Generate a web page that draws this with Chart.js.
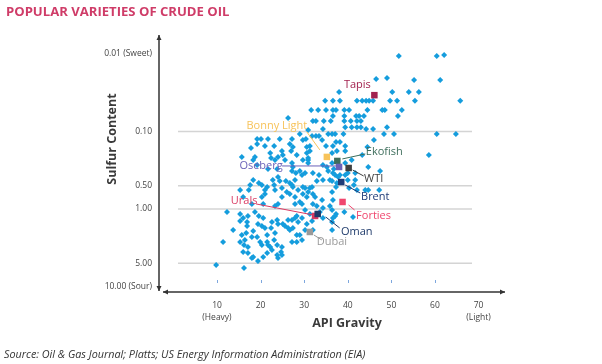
<!DOCTYPE html>
<html>
<head>
<meta charset="utf-8">
<script src="https://cdn.jsdelivr.net/npm/chart.js@4.4.1/dist/chart.umd.min.js"></script>
<style>
  html, body { margin: 0; padding: 0; background: #fff; }
</style>
</head>
<body>
<canvas id="oilChart" width="602" height="364"></canvas>
<script>
// Crude grades: API gravity and sulfur content (%), one entry per point
const api = [
  51.7, 60.4, 62.1,
  46.5, 49.0, 55.2, 61.2,
  38.0, 50.2, 54.0, 56.3,
  34.8, 36.6, 38.2, 42.1, 43.3, 44.2, 44.9, 45.8, 49.7, 51.3, 55.4, 65.8,
  31.6, 33.2, 35.0, 36.6, 37.3, 39.2, 40.3, 44.5, 47.9, 48.5, 52.4,
  36.6, 39.2, 41.9, 42.6, 43.7, 51.5, 26.3,
  32.0, 32.7, 34.5, 36.1, 39.2, 40.7, 42.1, 43.0,
  39.4, 40.9, 42.1, 43.0, 49.0,
  34.3, 44.2, 45.8, 30.9,
  29.0, 35.5, 36.4, 37.1, 39.0, 48.3, 50.6, 60.4, 64.8,
  31.8, 32.7, 33.4,
  19.2, 20.1, 21.7, 24.4, 27.2, 30.4,
  29.7, 34.1, 46.0, 37.3, 38.2,
  19.2, 26.7,
  21.0, 23.1, 31.3, 35.0, 36.6, 39.4,
  27.4, 30.6, 44.5, 17.8,
  24.9, 27.0, 31.3, 37.5, 39.4,
  22.2, 30.6, 36.4,
  25.1, 28.3, 43.3, 58.6,
  15.7, 18.7, 24.0, 22.4, 30.9,
  18.3, 23.3, 25.6, 29.7, 30.9, 40.9,
  27.2, 30.9, 36.4, 39.4,
  19.2, 34.3,
  27.4, 35.2, 44.7,
  21.7, 23.8, 36.8,
  27.2, 29.0, 35.5, 47.4,
  28.1, 30.2, 32.0, 36.6, 40.0, 41.7,
  29.5, 33.4, 37.1, 38.2, 39.4,
  24.0, 37.8,
  18.3, 22.8, 27.9, 34.3, 35.9, 40.0, 41.7,
  24.4, 25.8, 32.9, 36.4,
  19.6, 26.7, 37.5,
  17.6, 20.3, 23.1, 27.2, 41.4,
  21.5, 27.4, 29.7, 31.8, 37.3,
  24.9, 30.2, 31.3, 40.3,
  15.3, 17.3, 21.0, 23.3, 28.6, 42.1, 44.0, 44.7, 47.2,
  26.0, 30.9, 36.4,
  21.0, 26.7, 29.7, 32.0,
  16.0, 20.3, 24.9, 27.9, 30.6, 32.5,
  34.1, 36.6, 29.0,
  18.0, 20.6, 24.0, 27.9, 29.5, 32.0,
  23.3, 32.9, 35.9, 34.3,
  30.2, 36.4,
  12.3, 18.7, 33.6, 39.2,
  15.3, 31.3, 37.3,
  17.1, 19.6, 28.3, 37.1, 41.2,
  16.0, 20.6, 27.9, 29.5, 34.3, 36.6,
  23.8, 26.3, 27.2, 15.3, 31.8,
  16.9, 22.6, 28.6, 36.4,
  19.4, 24.0, 25.1, 30.6,
  16.9, 20.3, 25.6,
  21.0, 22.4, 26.3, 27.4,
  13.7, 26.7, 30.2, 32.0, 36.4, 18.3,
  16.7, 23.3,
  15.7, 21.5, 28.3, 29.0,
  18.0, 19.2,
  16.4, 23.1, 29.5,
  11.4, 15.3, 19.9, 21.5, 27.2, 28.3,
  16.2, 20.3, 21.7, 23.8,
  17.1, 22.2, 24.9, 22.6,
  16.0, 24.7, 17.1, 21.5,
  23.8, 24.9, 18.3, 20.6,
  18.0, 24.0, 19.4, 9.8, 16.2
];
const sulfur = [
  0.0106, 0.0106, 0.0103,
  0.0210, 0.0204, 0.0216, 0.0216,
  0.031, 0.031, 0.031, 0.031,
  0.040, 0.040, 0.040, 0.040, 0.040, 0.040, 0.040, 0.040, 0.040, 0.040, 0.040, 0.040,
  0.053, 0.053, 0.053, 0.053, 0.053, 0.053, 0.053, 0.053, 0.053, 0.053, 0.053,
  0.063, 0.063, 0.063, 0.063, 0.063, 0.063, 0.067,
  0.073, 0.073, 0.073, 0.073, 0.073, 0.073, 0.073, 0.073,
  0.088, 0.088, 0.088, 0.088, 0.088,
  0.093, 0.093, 0.093, 0.096,
  0.108, 0.108, 0.108, 0.108, 0.108, 0.108, 0.108, 0.108, 0.108,
  0.114, 0.114, 0.114,
  0.125, 0.125, 0.125, 0.125, 0.125, 0.125,
  0.129, 0.129, 0.129, 0.137, 0.137,
  0.145, 0.145,
  0.154, 0.154, 0.154, 0.154, 0.154, 0.154,
  0.158, 0.158, 0.158, 0.163,
  0.179, 0.179, 0.179, 0.179, 0.179,
  0.189, 0.189, 0.189,
  0.201, 0.201, 0.201, 0.201,
  0.213, 0.213, 0.213, 0.220, 0.220,
  0.233, 0.233, 0.233, 0.233, 0.233, 0.233,
  0.255, 0.255, 0.255, 0.255,
  0.271, 0.271,
  0.287, 0.287, 0.287,
  0.305, 0.305, 0.305,
  0.323, 0.323, 0.323, 0.323,
  0.343, 0.343, 0.343, 0.343, 0.343, 0.343,
  0.364, 0.364, 0.364, 0.364, 0.364,
  0.386, 0.386,
  0.422, 0.422, 0.422, 0.422, 0.422, 0.422, 0.422,
  0.435, 0.435, 0.435, 0.435,
  0.462, 0.462, 0.462,
  0.490, 0.490, 0.490, 0.490, 0.490,
  0.520, 0.520, 0.520, 0.520, 0.520,
  0.536, 0.536, 0.536, 0.536,
  0.569, 0.569, 0.569, 0.569, 0.569, 0.569, 0.569, 0.569, 0.569,
  0.604, 0.604, 0.604,
  0.640, 0.640, 0.640, 0.640,
  0.700, 0.700, 0.700, 0.700, 0.700, 0.700,
  0.765, 0.765, 0.812,
  0.862, 0.862, 0.862, 0.862, 0.862, 0.862,
  0.915, 0.915, 0.915, 0.971,
  1.03, 1.03,
  1.09, 1.09, 1.09, 1.09,
  1.16, 1.16, 1.16,
  1.23, 1.23, 1.23, 1.23, 1.27,
  1.31, 1.31, 1.31, 1.31, 1.31, 1.31,
  1.39, 1.39, 1.39, 1.43, 1.43,
  1.47, 1.47, 1.47, 1.47,
  1.56, 1.56, 1.56, 1.56,
  1.66, 1.66, 1.66,
  1.76, 1.76, 1.76, 1.76,
  1.87, 1.87, 1.87, 1.87, 1.87, 1.92,
  2.04, 2.04,
  2.16, 2.16, 2.16, 2.16,
  2.30, 2.30,
  2.51, 2.51, 2.51,
  2.67, 2.67, 2.67, 2.67, 2.67, 2.67,
  2.91, 2.91, 2.91, 2.91,
  3.09, 3.09, 3.09, 3.38,
  3.59, 3.59, 3.70, 3.70,
  3.92, 3.92, 4.16, 4.16,
  4.29, 4.29, 4.69, 5.28, 5.77
];

// Highlighted benchmark crudes
const crudeNames = ['Tapis', 'Bonny Light', 'Ekofish', 'Oseberg', 'WTI', 'Brent', 'Forties', 'Urals', 'Oman', 'Dubai'];
const crudeApi = [46.1, 35.2, 37.6, 38.0, 40.2, 38.5, 38.8, 32.5, 33.1, 31.3];
const crudeSulfur = [0.034, 0.213, 0.240, 0.287, 0.296, 0.449, 0.812, 1.23, 1.16, 1.98];
const crudeColors = ['#a3224f', '#f7c35a', '#3e6e5c', '#6b62b8', '#404040', '#1f3c78', '#f0466e', '#d93a63', '#1e3a6a', '#9a9a9a'];

// Axis ticks
const sulfurTicks = [0.01, 0.1, 0.5, 1, 5, 10];
const sulfurTickLabels = ['0.01 (Sweet)', '0.10', '0.50', '1.00', '5.00', '10.00 (Sour)'];
const gridValues = [0.1, 0.5, 1, 5];
const apiTicks = [10, 20, 30, 40, 50, 60, 70];
const apiTickLabels = [['10', '(Heavy)'], '20', '30', '40', '50', '60', ['70', '(Light)']];

const FONT = '"Open Sans", "DejaVu Sans", sans-serif';

// label placement around each highlighted marker: text centre, connector from/to
const labelLayout = [
  { t: [-17, -10] },
  { t: [-50, -31], l: [[-20, -25], [-7, -7]] },
  { t: [47, -9], l: [[5, -2], [28, -7]] },
  { t: [-78, -1], l: [[-57, -1], [-3, -1]] },
  { t: [25, 11], l: [[4, 2], [15, 8]] },
  { t: [34, 15], l: [[4, 3], [19, 11]] },
  { t: [31, 14], l: [[6, 3], [12, 8]] },
  { t: [-71, -15], l: [[-59, -12], [-2, -1]] },
  { t: [39, 18], l: [[8, 3], [22, 14]] },
  { t: [22, 10], l: [[4, 3], [12, 8]] }
];

function arrowLine(ctx, x1, y1, x2, y2) {
  ctx.beginPath();
  ctx.moveTo(x1, y1);
  ctx.lineTo(x2, y2);
  ctx.stroke();
  const ang = Math.atan2(y2 - y1, x2 - x1);
  [[x2, y2, ang], [x1, y1, ang + Math.PI]].forEach(([x, y, a]) => {
    ctx.beginPath();
    ctx.moveTo(x, y);
    ctx.lineTo(x - 5 * Math.cos(a) + 2.5 * Math.sin(a), y - 5 * Math.sin(a) - 2.5 * Math.cos(a));
    ctx.lineTo(x - 5 * Math.cos(a) - 2.5 * Math.sin(a), y - 5 * Math.sin(a) + 2.5 * Math.cos(a));
    ctx.closePath();
    ctx.fill();
  });
}

const decorations = {
  id: 'decorations',
  beforeDatasetsDraw(chart) {
    const { ctx, chartArea: a, scales: { x, y } } = chart;
    ctx.save();
    // horizontal reference lines
    ctx.strokeStyle = '#d4d4d4';
    ctx.lineWidth = 1.5;
    gridValues.forEach(v => {
      const py = y.getPixelForValue(v);
      ctx.beginPath();
      ctx.moveTo(a.left + 19, py);
      ctx.lineTo(a.right - 33, py);
      ctx.stroke();
    });
    // small tick marks above the x axis
    ctx.strokeStyle = '#7ea7de';
    ctx.lineWidth = 1;
    apiTicks.slice(0, -1).forEach(v => {
      const px = Math.round(x.getPixelForValue(v)) + 0.5;
      ctx.beginPath();
      ctx.moveTo(px, a.bottom - 12);
      ctx.lineTo(px, a.bottom - 9);
      ctx.stroke();
    });
    // axes with arrow heads
    ctx.strokeStyle = '#333';
    ctx.fillStyle = '#333';
    ctx.lineWidth = 1.5;
    arrowLine(ctx, a.left, a.bottom - 1, a.left, a.top);
    arrowLine(ctx, a.left + 4, a.bottom, a.right, a.bottom);
    ctx.restore();
  },
  afterDatasetsDraw(chart) {
    const { ctx, scales: { x, y } } = chart;
    ctx.save();
    ctx.font = '11px ' + FONT;
    ctx.textAlign = 'center';
    ctx.textBaseline = 'middle';
    crudeNames.forEach((name, i) => {
      const px = x.getPixelForValue(crudeApi[i]);
      const py = y.getPixelForValue(crudeSulfur[i]);
      const lay = labelLayout[i];
      ctx.strokeStyle = crudeColors[i];
      ctx.fillStyle = crudeColors[i];
      if (lay.l) {
        ctx.lineWidth = 1;
        ctx.beginPath();
        ctx.moveTo(px + lay.l[0][0], py + lay.l[0][1]);
        ctx.lineTo(px + lay.l[1][0], py + lay.l[1][1]);
        ctx.stroke();
      }
      ctx.fillText(name, px + lay.t[0], py + lay.t[1]);
    });
    ctx.restore();
  },
  afterDraw(chart) {
    const { ctx } = chart;
    ctx.save();
    ctx.fillStyle = '#cf3c68';
    ctx.font = 'bold 13.1px ' + FONT;
    ctx.textBaseline = 'alphabetic';
    ctx.textAlign = 'left';
    ctx.fillText('POPULAR VARIETIES OF CRUDE OIL', 6, 16);

    ctx.fillStyle = '#3a3a3a';
    ctx.font = 'bold 12.5px ' + FONT;
    ctx.textAlign = 'center';
    ctx.textBaseline = 'middle';
    ctx.fillText('API Gravity', 347, 323);
    ctx.save();
    ctx.translate(112, 139);
    ctx.rotate(-Math.PI / 2);
    ctx.fillText('Sulfur Content', 0, 0);
    ctx.restore();

    ctx.fillStyle = '#333';
    ctx.font = 'italic 10.8px ' + FONT;
    ctx.textAlign = 'left';
    ctx.fillText('Source: Oil & Gas Journal; Platts; US Energy Information Administration (EIA)', 4, 355);
    ctx.restore();
  }
};

const n = Math.min(api.length, sulfur.length);
const gradePoints = api.slice(0, n).map((v, i) => ({ x: v, y: sulfur[i] }));
const crudePoints = crudeNames.map((_, i) => ({ x: crudeApi[i], y: crudeSulfur[i] }));

new Chart(document.getElementById('oilChart'), {
  type: 'scatter',
  data: {
    datasets: [{
      label: 'Crude grades',
      data: gradePoints,
      pointStyle: 'rectRot',
      pointRadius: 3,
      pointBackgroundColor: '#159ddd',
      pointBorderWidth: 0,
      order: 1
    }, {
      label: 'Benchmarks',
      data: crudePoints,
      pointStyle: 'rect',
      pointRadius: 4.6,
      pointBackgroundColor: crudeColors,
      pointBorderWidth: 0,
      order: 0
    }]
  },
  options: {
    responsive: false,
    animation: false,
    events: [],
    layout: { padding: { top: 35, right: 97, left: 0, bottom: 0 } },
    plugins: {
      legend: { display: false },
      tooltip: { enabled: false }
    },
    scales: {
      x: {
        type: 'linear',
        min: -3.3,
        max: 76.06,
        afterBuildTicks: s => { s.ticks = apiTicks.map(v => ({ value: v })); },
        afterFit: s => { s.height = 72; },
        grid: { display: false, drawTicks: false },
        border: { display: false },
        ticks: {
          autoSkip: false,
          maxRotation: 0,
          padding: 8,
          color: '#444',
          font: { family: FONT, size: 8.5, lineHeight: 1.4 },
          callback: (v, i) => apiTickLabels[i]
        }
      },
      y: {
        type: 'logarithmic',
        reverse: true,
        min: 0.00569,
        max: 11.78,
        afterBuildTicks: s => { s.ticks = sulfurTicks.map(v => ({ value: v })); },
        afterFit: s => { s.width = 159; },
        grid: { display: false, drawTicks: false },
        border: { display: false },
        ticks: {
          autoSkip: false,
          padding: 7,
          color: '#444',
          font: { family: FONT, size: 8.5 },
          callback: (v, i) => sulfurTickLabels[i]
        }
      }
    }
  },
  plugins: [decorations]
});
</script>
</body>
</html>
